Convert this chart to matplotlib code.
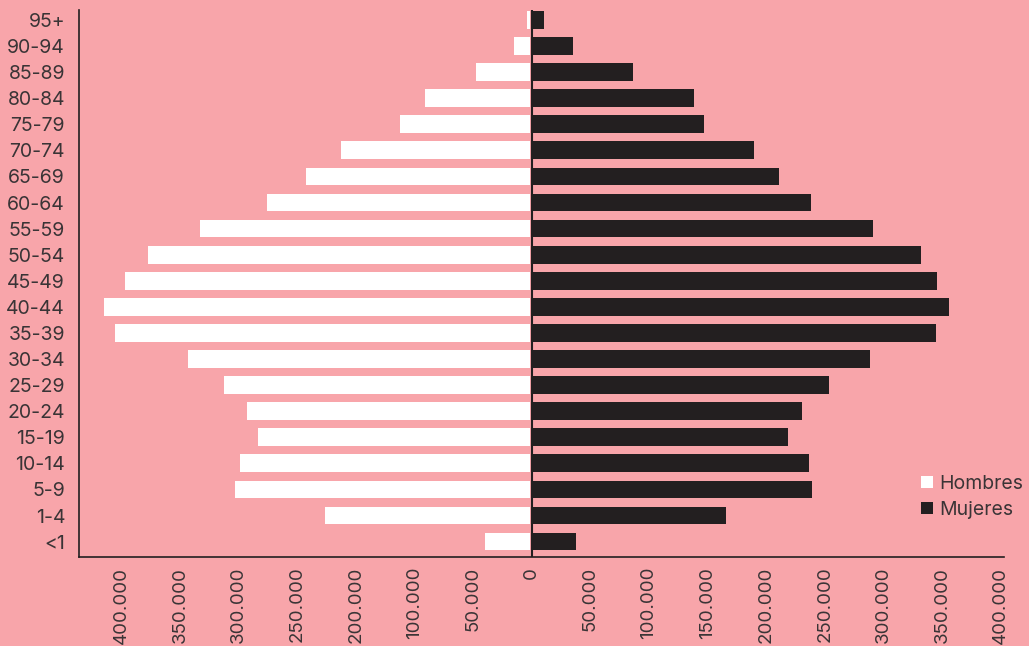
import numpy as np
import matplotlib.pyplot as plt

# --- Data (top to bottom as in the chart) ---
age_groups = ['95+', '90-94', '85-89', '80-84', '75-79', '70-74', '65-69', '60-64',
              '55-59', '50-54', '45-49', '40-44', '35-39', '30-34', '25-29', '20-24',
              '15-19', '10-14', '5-9', '1-4', '<1']
hombres = [3000, 13700, 46000, 90000, 111000, 161500, 191000, 225000,
           282000, 326500, 346000, 364000, 354000, 292000, 261500, 242000,
           232500, 248000, 252000, 175000, 39000]
mujeres = [9400, 34000, 85500, 137600, 146000, 189000, 210000, 237600,
           290600, 331600, 345000, 354700, 343600, 288000, 253000, 230000,
           218000, 236000, 238500, 165000, 36800]

left_ticks = [-50000, -100000, -150000, -200000, -250000, -300000, -350000]
left_labels = ['50.000', '100.000', '200.000', '250.000', '300.000', '350.000', '400.000']
right_ticks = [0, 50000, 100000, 150000, 200000, 250000, 300000, 350000, 400000]
right_labels = ['0', '50.000', '100.000', '150.000', '200.000', '250.000', '300.000',
                '350.000', '400.000']

# --- Colours ---
bg = '#F8A5AA'
dark = '#231F20'
text_col = '#3A3436'

plt.rcParams['font.family'] = ['Inter', 'DejaVu Sans']

fig = plt.figure(figsize=(10.29, 6.46), dpi=100, facecolor=bg)
ax = fig.add_axes([79 / 1029, (646 - 557) / 646, (1004 - 79) / 1029, (557 - 10) / 646])
ax.set_facecolor(bg)

y = np.arange(len(age_groups))[::-1]
ax.barh(y, [-v for v in hombres], height=0.68, color='white', label='Hombres', left=-1000)
ax.barh(y, mujeres, height=0.68, color=dark, label='Mujeres', left=1000)
ax.axvline(0, color=dark, lw=1.5, zorder=3)

ax.set_xlim(-386000, 403000)
ax.set_ylim(-0.59, len(age_groups) - 1 + 0.38)

ax.set_yticks(y)
ax.set_yticklabels(age_groups, fontsize=14, color=text_col)
ax.set_xticks(left_ticks + right_ticks)
ax.set_xticklabels(left_labels + right_labels, rotation=90, fontsize=13.5, color=text_col)
ax.tick_params(axis='y', length=0, pad=10)
ax.tick_params(axis='x', length=0, pad=7)

for s in ['top', 'right']:
    ax.spines[s].set_visible(False)
for s in ['left', 'bottom']:
    ax.spines[s].set_color(dark)
    ax.spines[s].set_linewidth(1.2)

fig.legend(loc='upper left', bbox_to_anchor=(921 / 1029, 1 - 475 / 646), frameon=False,
           fontsize=14, handlelength=0.6, handleheight=0.6, handletextpad=0.35,
           labelspacing=0.4, borderpad=0, borderaxespad=0, labelcolor=text_col)

plt.savefig('out.png', dpi=100, facecolor=bg)
